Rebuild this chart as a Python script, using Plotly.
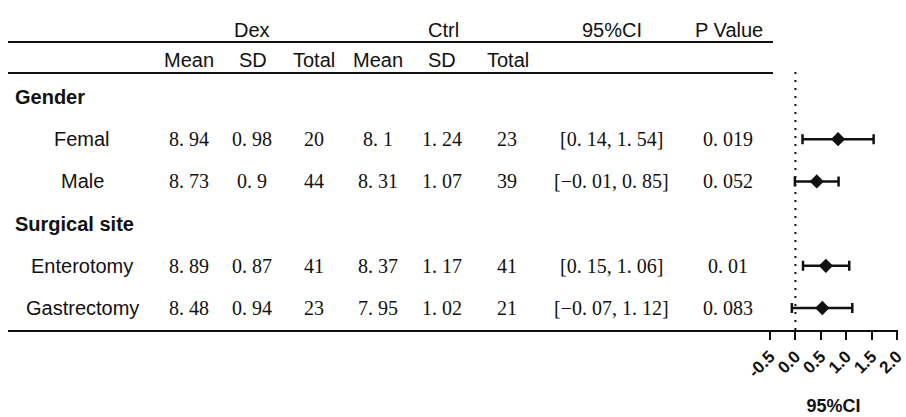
import plotly.graph_objects as go

# ---------------- data ----------------
subgroups = ["Femal", "Male", "Enterotomy", "Gastrectomy"]
group_names = ["Gender", "Surgical site"]
subgroup_group = [0, 0, 1, 1]
dex_mean = [8.94, 8.73, 8.89, 8.48]
dex_sd = [0.98, 0.9, 0.87, 0.94]
dex_total = [20, 44, 41, 23]
ctrl_mean = [8.1, 8.31, 8.37, 7.95]
ctrl_sd = [1.24, 1.07, 1.17, 1.02]
ctrl_total = [23, 39, 41, 21]
ci_low = [0.14, -0.01, 0.15, -0.07]
ci_high = [1.54, 0.85, 1.06, 1.12]
effect = [0.84, 0.42, 0.60, 0.53]
p_value = [0.019, 0.052, 0.01, 0.083]
x_tick_vals = [-0.5, 0.0, 0.5, 1.0, 1.5, 2.0]
x_tick_text = ["-0.5", "0.0", "0.5", "1.0", "1.5", "2.0"]
header_top = ["Dex", "Ctrl", "95%CI", "P Value"]
header_sub = ["Mean", "SD", "Total", "Mean", "SD", "Total"]

# ---------------- layout helpers ----------------
W, H = 906, 417
ROW0_PX, ROW_STEP = 97.0, 42.2          # pixel of first row and row pitch


def px2row(p):
    return (p - ROW0_PX) / ROW_STEP


def xp(p):
    return p / W


def fmt(v):
    return str(v).replace("-", "\u2212").replace(".", ". ")


# build table rows: group header then its subgroups
rows = []
for g, gname in enumerate(group_names):
    rows.append(("group", gname, None))
    for i, s in enumerate(subgroups):
        if subgroup_group[i] == g:
            rows.append(("sub", s, i))

sub_row_pos = [None] * len(subgroups)
for r, (kind, name, idx) in enumerate(rows):
    if kind == "sub":
        sub_row_pos[idx] = r

SANS = "Liberation Sans, Arial, sans-serif"
SERIF = "Liberation Serif, Times New Roman, serif"
BLACK = "#111111"

fig = go.Figure()

fig.add_trace(go.Scatter(
    x=effect, y=sub_row_pos, xaxis="x2", yaxis="y",
    mode="markers",
    marker=dict(symbol="diamond", size=11, color=BLACK),
    error_x=dict(type="data", symmetric=False,
                 array=[h - e for h, e in zip(ci_high, effect)],
                 arrayminus=[e - l for e, l in zip(effect, ci_low)],
                 color=BLACK, thickness=2.5, width=5),
    showlegend=False, hoverinfo="skip",
))

ann = []
# top header
top_x = [252, 443, 612, 729]
for t, x in zip(header_top, top_x):
    ann.append(dict(text=t, x=xp(x), y=px2row(30), xref="paper", yref="y",
                    showarrow=False, font=dict(family=SANS, size=20, color=BLACK),
                    xanchor="center", yanchor="middle"))
sub_x = [189, 253, 314, 378, 442, 508]
for t, x in zip(header_sub, sub_x):
    ann.append(dict(text=t, x=xp(x), y=px2row(60), xref="paper", yref="y",
                    showarrow=False, font=dict(family=SANS, size=20, color=BLACK),
                    xanchor="center", yanchor="middle"))

col_x = [189, 252, 314, 378, 442, 507, 611, 728]
for r, (kind, name, idx) in enumerate(rows):
    if kind == "group":
        ann.append(dict(text="<b>%s</b>" % name, x=xp(13), y=r, xref="paper", yref="y",
                        showarrow=False, font=dict(family=SANS, size=20, color=BLACK),
                        xanchor="left", yanchor="middle"))
    else:
        ann.append(dict(text=name, x=xp(82), y=r, xref="paper", yref="y",
                        showarrow=False, font=dict(family=SANS, size=20, color=BLACK),
                        xanchor="center", yanchor="middle"))
        vals = [fmt(dex_mean[idx]), fmt(dex_sd[idx]), str(dex_total[idx]),
                fmt(ctrl_mean[idx]), fmt(ctrl_sd[idx]), str(ctrl_total[idx]),
                "[%s, %s]" % (fmt(ci_low[idx]), fmt(ci_high[idx])),
                fmt(p_value[idx])]
        for v, x in zip(vals, col_x):
            ann.append(dict(text=v, x=xp(x), y=r, xref="paper", yref="y",
                            showarrow=False, font=dict(family=SERIF, size=20, color=BLACK),
                            xanchor="center", yanchor="middle"))

shapes = [
    dict(type="line", xref="paper", yref="y", x0=xp(8), x1=xp(773),
         y0=px2row(42), y1=px2row(42), line=dict(color=BLACK, width=2)),
    dict(type="line", xref="paper", yref="y", x0=xp(8), x1=xp(773),
         y0=px2row(73), y1=px2row(73), line=dict(color=BLACK, width=2)),
    dict(type="line", xref="paper", yref="y", x0=xp(8), x1=xp(898),
         y0=px2row(331), y1=px2row(331), line=dict(color=BLACK, width=2)),
    dict(type="line", xref="x2", yref="y", x0=0, x1=0,
         y0=px2row(72), y1=px2row(331), line=dict(color=BLACK, width=2, dash="2px,6px")),
]

fig.update_layout(
    width=W, height=H,
    margin=dict(l=0, r=0, t=0, b=0, autoexpand=False),
    paper_bgcolor="white", plot_bgcolor="white",
    annotations=ann, shapes=shapes,
    yaxis=dict(domain=[0, 1], range=[px2row(H), px2row(0)], visible=False,
               anchor="x2", fixedrange=True, automargin=False),
    xaxis2=dict(domain=[xp(770), xp(897)], range=[-0.5, 2.0],
                anchor="free", position=1 - 331 / H, automargin=False,
                tickmode="array", tickvals=x_tick_vals, ticktext=x_tick_text,
                tickangle=-45, ticks="outside", ticklen=8, tickwidth=2,
                ticklabeloverflow="allow",
                tickcolor=BLACK, showline=True, linewidth=2, linecolor=BLACK,
                showgrid=False, zeroline=False,
                tickfont=dict(family=SANS, size=17, color=BLACK, weight="bold"),
                title=dict(text="<b>95%CI</b>", standoff=18,
                           font=dict(family=SANS, size=18, color=BLACK))),
)

fig.write_html("out.html", config={"displayModeBar": False},
               post_script="document.body.style.margin='0';")
